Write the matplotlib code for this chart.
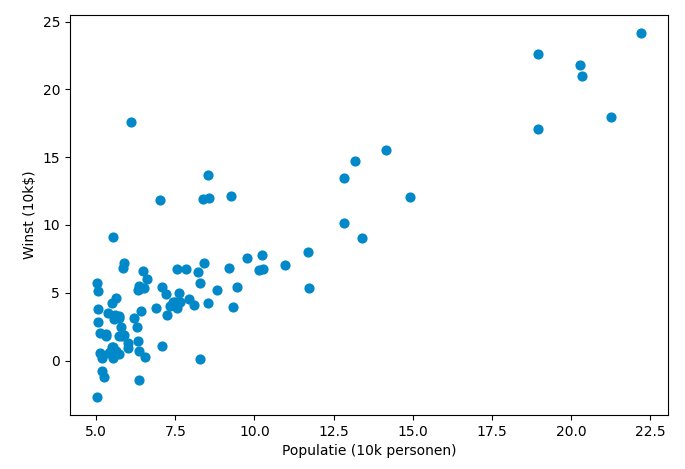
import matplotlib
matplotlib.use("Agg")
import matplotlib.pyplot as plt

populatie = [6.1101, 5.5277, 8.5186, 7.0032, 5.8598, 8.3829, 7.4764, 8.5781, 6.4862, 5.0546,
             5.7107, 14.164, 5.734, 8.4084, 5.6407, 5.3794, 6.3654, 5.1301, 6.4296, 7.0708,
             6.1891, 20.27, 5.4901, 6.3261, 5.5649, 18.945, 12.828, 10.957, 13.176, 22.203,
             5.2524, 6.5894, 9.2482, 5.8918, 8.2111, 7.9334, 8.0959, 5.6063, 12.836, 6.3534,
             5.4069, 6.8825, 11.708, 5.7737, 7.8247, 7.0931, 5.0702, 5.8014, 11.7, 5.5416,
             7.5402, 5.3077, 7.4239, 7.6031, 6.3328, 6.3589, 6.2742, 5.6397, 9.3102, 9.4536,
             8.8254, 5.1793, 21.279, 14.908, 18.959, 7.2182, 8.2951, 10.236, 5.4994, 20.341,
             10.136, 7.3345, 6.0062, 7.2259, 5.0269, 6.5479, 7.5386, 5.0365, 10.274, 5.1077,
             5.7292, 5.1884, 6.3557, 9.7687, 6.5159, 8.5172, 9.1802, 6.002, 5.5204, 5.0594,
             5.7077, 7.6366, 5.8707, 5.3054, 8.2934, 13.394, 5.4369]
winst = [17.592, 9.1302, 13.662, 11.854, 6.8233, 11.886, 4.3483, 12.0, 6.5987, 3.8166,
         3.2522, 15.505, 3.1551, 7.2258, 0.71618, 3.5129, 5.3048, 0.56077, 3.6518, 5.3893,
         3.1386, 21.767, 4.263, 5.1875, 3.0825, 22.638, 13.501, 7.0467, 14.692, 24.147,
         -1.22, 5.9966, 12.134, 1.8495, 6.5426, 4.5623, 4.1164, 3.3928, 10.117, 5.4974,
         0.55657, 3.9115, 5.3854, 2.4406, 6.7318, 1.0463, 5.1337, 1.844, 8.0043, 1.0179,
         6.7504, 1.8396, 4.2885, 4.9981, 1.4233, -1.4211, 2.4756, 4.6042, 3.9624, 5.4141,
         5.1694, -0.74279, 17.929, 12.054, 17.054, 4.8852, 5.7442, 7.7754, 1.0173, 20.992,
         6.6799, 4.0259, 1.2784, 3.3411, -2.6807, 0.29678, 3.8845, 5.7014, 6.7526, 2.0576,
         0.47953, 0.20421, 0.67861, 7.5435, 5.3436, 4.2415, 6.7981, 0.92695, 0.152, 2.8214,
         1.8451, 4.2959, 7.2029, 1.9869, 0.14454, 9.0551, 0.61705]

fig, ax = plt.subplots(figsize=(6.85, 4.69), dpi=100)
ax.scatter(populatie, winst, color='#0088c8', s=40)
ax.set_xlabel('Populatie (10k personen)')
ax.set_ylabel('Winst (10k$)')
fig.subplots_adjust(left=0.102, right=0.975, top=0.968, bottom=0.115)
fig.savefig('out.png')
